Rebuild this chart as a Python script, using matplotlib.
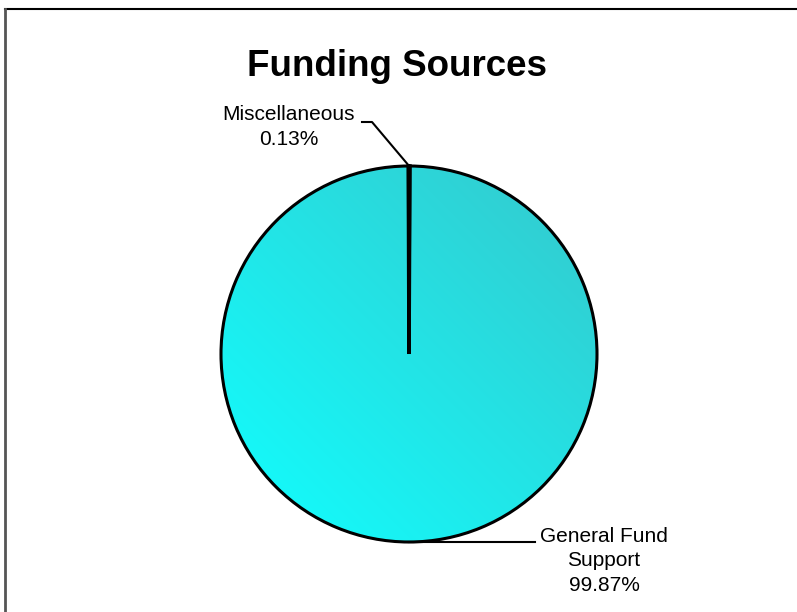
import numpy as np
import matplotlib
matplotlib.use("Agg")
import matplotlib.pyplot as plt
from matplotlib.lines import Line2D

plt.rcParams['font.family'] = ['Liberation Sans', 'DejaVu Sans']

title = "Funding Sources"
categories = ["Miscellaneous", "General Fund\nSupport"]
shares = [0.13, 99.87]

W, H = 797, 612
fig = plt.figure(figsize=(W / 100, H / 100), dpi=100)
ax = fig.add_axes([0, 0, 1, 1])
ax.set_xlim(0, W)
ax.set_ylim(0, H)
ax.set_aspect('equal')
ax.axis('off')

cx, cy, r = 409, H - 354, 188
wedges, _ = ax.pie(shares, startangle=90.2, counterclock=False, center=(cx, cy), radius=r,
                   wedgeprops=dict(edgecolor='black', linewidth=2.2), frame=True)
ax.set_xlim(0, W)
ax.set_ylim(0, H)
ax.axis('off')

wedges[0].set_facecolor('black')
wedges[0].set_linewidth(2.6)
wedges[1].set_facecolor('none')

# gradient fill for main wedge: bright cyan bottom-left -> teal top-right
n = 256
yy, xx = np.mgrid[0:1:n * 1j, 0:1:n * 1j]
t = (xx + yy) / 2.0
c0 = np.array([0x10, 0xFF, 0xFF]) / 255.0
c1 = np.array([0x36, 0xC8, 0xCC]) / 255.0
img = c0[None, None, :] * (1 - t[..., None]) + c1[None, None, :] * t[..., None]
im = ax.imshow(img, extent=(cx - r, cx + r, cy - r, cy + r), origin='lower', zorder=0.5,
               interpolation='bilinear')
im.set_clip_path(wedges[1])
wedges[1].set_zorder(1)
wedges[0].set_zorder(1.1)

def mid_point(w):
    ang = np.deg2rad((w.theta1 + w.theta2) / 2)
    return cx + r * np.cos(ang), cy + r * np.sin(ang)

fs = 15
ls = 1.38
# Miscellaneous
px, py = mid_point(wedges[0])
ax.add_line(Line2D([px, 372, 362], [py, H - 122, H - 122], color='black', lw=1.5, zorder=3))
ax.text(289, H - 127, f"{categories[0]}\n{shares[0]:.2f}%", ha='center', va='center',
        fontsize=fs, linespacing=ls, zorder=3)
# General Fund
px, py = mid_point(wedges[1])
ax.add_line(Line2D([px, 535], [py, py], color='black', lw=1.5, zorder=3))
ax.text(604, H - 561, f"{categories[1]}\n{shares[1]:.2f}%", ha='center', va='center',
        fontsize=fs, linespacing=ls, zorder=3)

ax.text(397, H - 66, title, ha='center', va='center', fontsize=26.5, fontweight='bold')

# frame
ax.add_line(Line2D([5, W], [H - 9, H - 9], color='black', lw=1.5))
ax.add_line(Line2D([5.5, 5.5], [0, H - 9], color='#555555', lw=2))

fig.savefig('out.png', dpi=100)
